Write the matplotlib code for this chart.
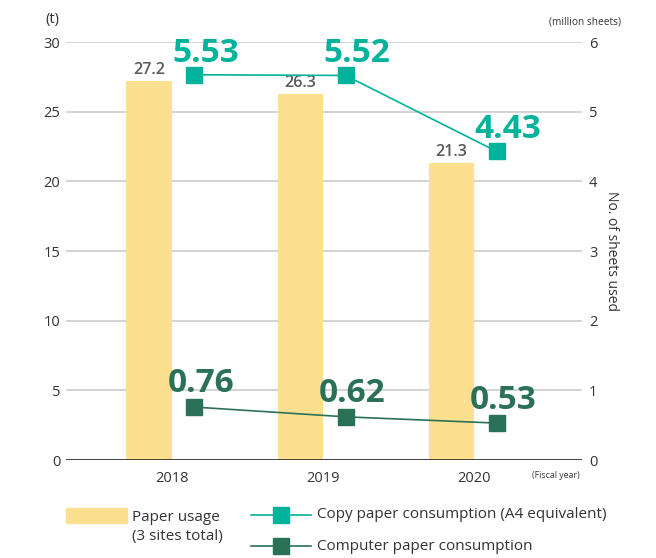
import matplotlib
matplotlib.use("Agg")
import matplotlib.pyplot as plt
from matplotlib.lines import Line2D
from matplotlib.patches import Rectangle
import numpy as np

years = ["2018", "2019", "2020"]
paper_usage = [27.2, 26.3, 21.3]
copy_paper = [5.53, 5.52, 4.43]
computer_paper = [0.76, 0.62, 0.53]
left_ticks = [0, 5, 10, 15, 20, 25, 30]
right_ticks = [0, 1, 2, 3, 4, 5, 6]

BAR = "#fde08f"
TEAL = "#00b39a"
DARK = "#2a7158"
TXT = "#333333"
GRAY_LBL = "#58595b"

plt.rcParams['font.family'] = ['Open Sans', 'DejaVu Sans']

fig = plt.figure(figsize=(6.56, 5.58), dpi=100)
ax = fig.add_axes([0.1006, 0.1756, 0.7866, 0.7491])
ax2 = ax.twinx()

x = np.arange(len(years))
bw = 0.30
bx = x - 0.15
mx = x + 0.15

ax.set_axisbelow(True)
for t in left_ticks[1:]:
    ax.axhline(t, color="#c8c8c8", lw=1.1, zorder=0)
bars = ax.bar(bx, paper_usage, width=bw, color=BAR, zorder=2)
for xi, v in zip(bx, paper_usage):
    ax.annotate(f"{v}", (xi, v), xytext=(0, 2), textcoords="offset points",
                ha="center", va="bottom", fontsize=11.5, fontweight="semibold",
                color=GRAY_LBL)
ax.axhline(0, color="#333333", lw=1.3, zorder=3)

ax.set_xlim(-0.70, 2.715)
ax.set_ylim(0, 30)
ax2.set_ylim(0, 6)
ax.set_yticks(left_ticks)
ax2.set_yticks(right_ticks)
ax.set_xticks(x)
ax.set_xticklabels(years)
for a in (ax, ax2):
    for s in a.spines.values():
        s.set_visible(False)
    a.tick_params(length=0, labelsize=10.5, labelcolor=TXT)
ax.tick_params(axis="y", pad=4)
ax2.tick_params(axis="y", pad=5)
ax.tick_params(axis="x", pad=8)

ax2.plot(mx, copy_paper, color=TEAL, lw=1.2, marker="s", ms=11.5, zorder=5)
ax2.plot(mx, computer_paper, color=DARK, lw=1.2, marker="s", ms=11.5, zorder=5)
for xi, v in zip(mx, copy_paper):
    ax2.annotate(f"{v:.2f}", (xi, v), xytext=(8, 9.5), textcoords="offset points",
                 ha="center", va="baseline", fontsize=24, fontweight="bold", color=TEAL)
for xi, v in zip(mx, computer_paper):
    ax2.annotate(f"{v:.2f}", (xi, v), xytext=(5, 10.5), textcoords="offset points",
                 ha="center", va="baseline", fontsize=24, fontweight="bold", color=DARK)

fig.text(52/656, 1-20/558, "(t)", ha="center", va="center", fontsize=10.5, color=TXT)
fig.text(585/656, 1-22/558, "(million sheets)", ha="center", va="center", fontsize=7.3,
         color=TXT, family=['Liberation Sans Narrow', 'Open Sans', 'DejaVu Sans'])
fig.text(556/656, 1-476/558, "(Fiscal year)", ha="center", va="center", fontsize=6.3,
         color=TXT, family=['Liberation Sans Narrow', 'Open Sans', 'DejaVu Sans'])
fig.text(612/656, 1-251/558, "No. of sheets used", ha="center", va="center",
         rotation=-90, fontsize=10, color=TXT)

# Legend
fig.patches.append(Rectangle((66/656, 1-523/558), 61/656, 15/558,
                             transform=fig.transFigure, color=BAR))
fig.text(132/656, 1-527/558, "Paper usage\n(3 sites total)", ha="left", va="center",
         fontsize=11, color=TXT, linespacing=1.3)
for yy, col, lab in [(515, TEAL, "Copy paper consumption (A4 equivalent)"),
                     (546, DARK, "Computer paper consumption")]:
    fy = 1 - yy/558
    fig.lines.append(Line2D([251/656, 311/656], [fy, fy], transform=fig.transFigure,
                            color=col, lw=1.2))
    fig.lines.append(Line2D([281/656], [fy], transform=fig.transFigure, color=col,
                            marker="s", ms=11.5, lw=0))
    fig.text(317/656, fy, lab, ha="left", va="center", fontsize=11, color=TXT)

fig.savefig("out.png", dpi=100)
